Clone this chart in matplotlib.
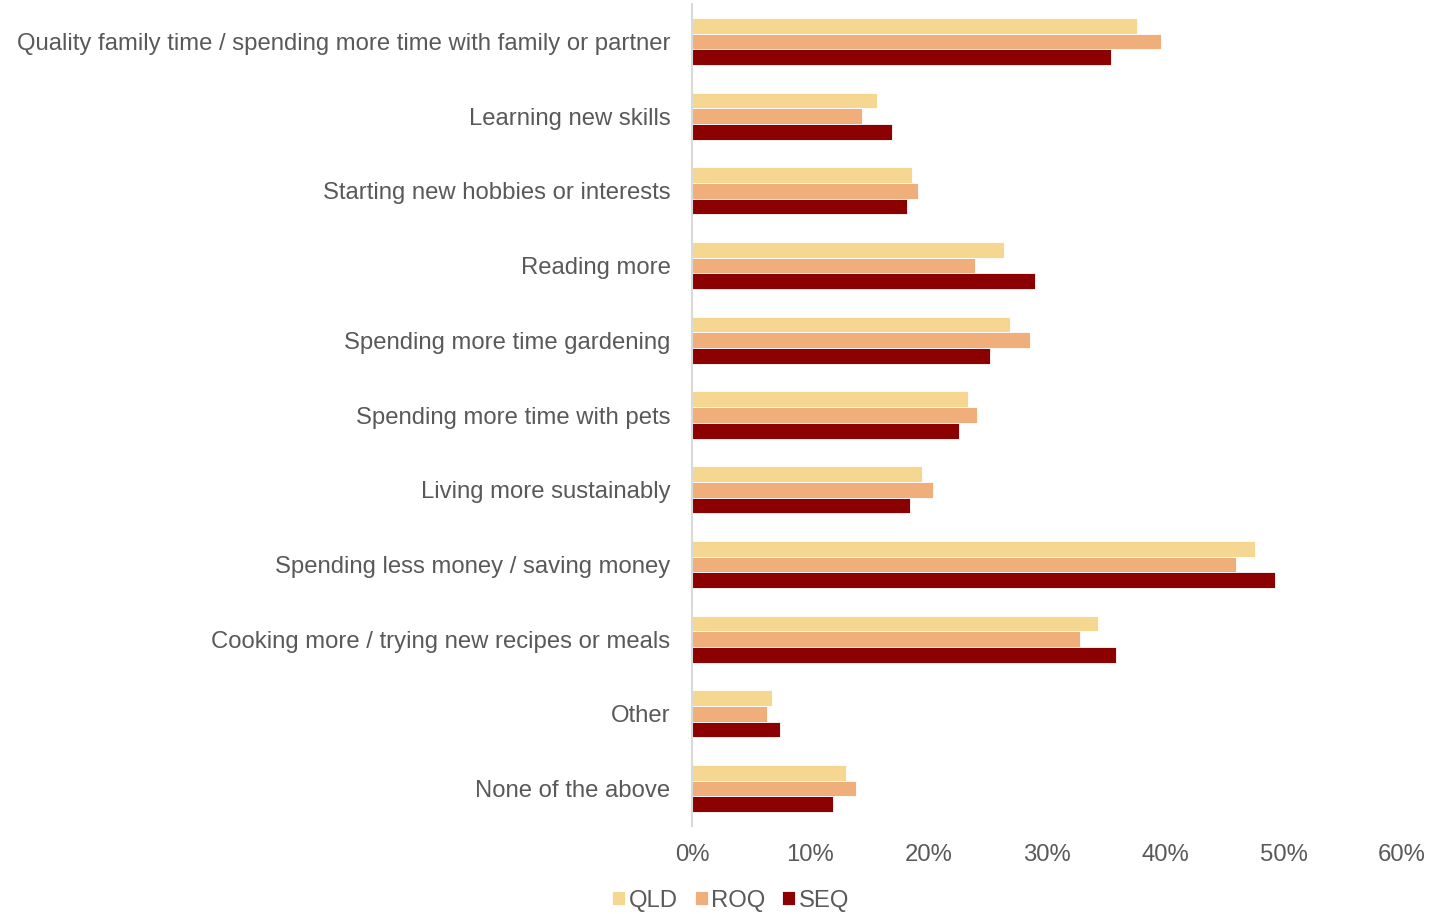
import matplotlib
matplotlib.use("Agg")
import matplotlib.pyplot as plt
import numpy as np

categories = [
    "Quality family time / spending more time with family or partner",
    "Learning new skills",
    "Starting new hobbies or interests",
    "Reading more",
    "Spending more time gardening",
    "Spending more time with pets",
    "Living more sustainably",
    "Spending less money / saving money",
    "Cooking more / trying new recipes or meals",
    "Other",
    "None of the above",
]
qld = [37.6, 15.6, 18.6, 26.4, 26.9, 23.3, 19.4, 47.6, 34.3, 6.8, 13.0]
roq = [39.6, 14.4, 19.1, 23.9, 28.6, 24.1, 20.4, 46.0, 32.8, 6.3, 13.9]
seq = [35.4, 16.9, 18.2, 29.0, 25.2, 22.6, 18.4, 49.3, 35.8, 7.4, 11.9]
series_names = ["QLD", "ROQ", "SEQ"]
colors = ["#F6D791", "#F0AE7B", "#8B0000"]
x_ticks = [0, 10, 20, 30, 40, 50, 60]

plt.rcParams["font.family"] = ["Liberation Sans", "DejaVu Sans"]
text_color = "#595959"
fs = 17.2

fig = plt.figure(figsize=(14.3, 9.14), dpi=100)
ax = fig.add_axes([0.4839, 0.0963, 0.4965, 0.8993])

y = np.arange(len(categories))
h = 0.21
for i, (vals, name, c) in enumerate(zip([qld, roq, seq], series_names, colors)):
    ax.barh(y + (i - 1) * h, vals, height=h, color=c, label=name,
            edgecolor="white", linewidth=0.6)

ax.set_ylim(len(categories) - 0.5, -0.5)
ax.set_xlim(0, 60)
ax.set_yticks(y)
ax.set_yticklabels(categories, fontsize=fs, color=text_color)
ax.set_xticks(x_ticks)
ax.set_xticklabels([f"{t}%" for t in x_ticks], fontsize=fs, color=text_color)
ax.tick_params(axis="y", length=0, pad=15.5)
ax.tick_params(axis="x", length=0, pad=13)

for s in ["top", "right", "bottom"]:
    ax.spines[s].set_visible(False)
ax.spines["left"].set_color("#D9D9D9")
ax.spines["left"].set_linewidth(1.5)

leg = fig.legend(loc="lower center", bbox_to_anchor=(0.511, -0.021), ncol=3,
                 frameon=False, fontsize=fs, handlelength=0.55, handleheight=0.55,
                 handletextpad=0.15, columnspacing=0.7)
for t in leg.get_texts():
    t.set_color(text_color)

fig.savefig("out.png", dpi=100)
